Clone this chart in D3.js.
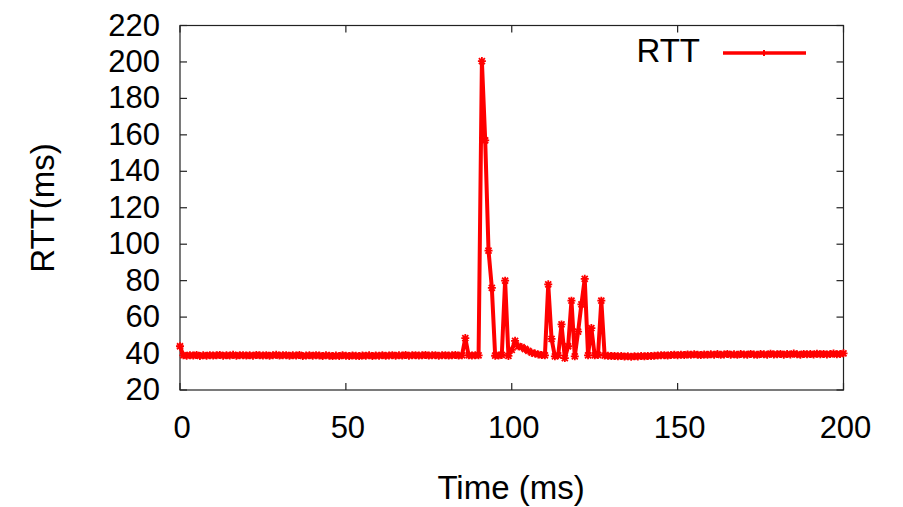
<!DOCTYPE html>
<html>
<head>
<meta charset="utf-8">
<script src="https://cdn.jsdelivr.net/npm/d3@7"></script>
<style>
  body { margin: 0; background: #fff; }
  svg { display: block; font-family: "Liberation Sans", Arial, Helvetica, sans-serif; }
</style>
</head>
<body>
<div id="chart"></div>
<script>
// time axis (ms), one sample per ms
const timeMs = [
  0, 1, 2, 3, 4, 5, 6, 7, 8, 9, 10, 11, 12, 13, 14, 15, 16, 17, 18, 19,
  20, 21, 22, 23, 24, 25, 26, 27, 28, 29, 30, 31, 32, 33, 34, 35, 36, 37, 38, 39,
  40, 41, 42, 43, 44, 45, 46, 47, 48, 49, 50, 51, 52, 53, 54, 55, 56, 57, 58, 59,
  60, 61, 62, 63, 64, 65, 66, 67, 68, 69, 70, 71, 72, 73, 74, 75, 76, 77, 78, 79,
  80, 81, 82, 83, 84, 85, 86, 87, 88, 89, 90, 91, 92, 93, 94, 95, 96, 97, 98, 99,
  100, 101, 102, 103, 104, 105, 106, 107, 108, 109, 110, 111, 112, 113, 114, 115, 116, 117, 118, 119,
  120, 121, 122, 123, 124, 125, 126, 127, 128, 129, 130, 131, 132, 133, 134, 135, 136, 137, 138, 139,
  140, 141, 142, 143, 144, 145, 146, 147, 148, 149, 150, 151, 152, 153, 154, 155, 156, 157, 158, 159,
  160, 161, 162, 163, 164, 165, 166, 167, 168, 169, 170, 171, 172, 173, 174, 175, 176, 177, 178, 179,
  180, 181, 182, 183, 184, 185, 186, 187, 188, 189, 190, 191, 192, 193, 194, 195, 196, 197, 198, 199,
  200
];

const rttMs = [
  44.0,
  39.0, 38.8, 39.1, 38.9, 39.2, 38.7, 39.0, 38.8, 39.1, 38.9,
  39.0, 39.2, 38.8, 39.0, 38.9, 39.3, 38.8, 39.0, 39.1, 38.9,
  39.0, 38.8, 39.2, 39.0, 38.9, 39.1, 38.8, 39.0, 39.3, 38.9,
  39.0, 39.1, 38.8, 39.0, 38.9, 39.2, 38.7, 38.9, 39.0, 38.8,
  39.1, 38.9, 38.7, 39.0, 38.8, 38.6, 38.9, 38.7, 39.0, 38.8,
  38.7, 38.9, 38.8, 38.6, 38.9, 38.8, 39.0, 38.7, 38.9, 38.8,
  39.0, 38.8, 38.9, 39.1, 38.8, 39.0, 38.9, 39.2, 38.8, 39.0,
  39.1, 38.9, 39.0, 39.2, 38.9, 39.0, 39.1, 38.8, 39.0, 39.1,
  38.9, 39.0, 39.2, 38.9, 39.0,
  48.5, 39.0, 38.9, 39.1, 39.0,
  200.5, 157.0, 96.5, 76.0, 38.8, 38.9, 39.2, 80.0, 38.7,
  42.0, 47.0, 44.0, 43.5, 42.5, 41.5, 40.5, 40.0, 39.5, 39.2,
  39.0, 78.0, 48.0, 38.5, 39.0, 56.0, 37.5, 44.0, 69.0, 38.5,
  52.0, 67.0, 81.0, 39.0, 54.0, 39.0, 39.2, 69.0, 38.9,
  38.8, 38.6, 38.7, 38.5, 38.6, 38.4, 38.5, 38.3, 38.5, 38.4, 38.6, 38.5,
  38.7, 38.6, 38.8, 38.9, 39.0, 39.1, 38.9, 39.2, 39.3, 39.1,
  39.4, 39.2, 39.5, 39.3, 39.6, 39.4, 39.2, 39.5, 39.3, 39.6,
  39.4, 39.7, 39.3, 39.5, 39.8, 39.4, 39.6, 39.3, 39.7, 39.5,
  39.4, 39.8, 39.5, 39.3, 39.7, 39.6, 39.4, 39.9, 39.5, 39.6,
  39.8, 39.4, 39.7, 39.5, 40.0, 39.6, 39.4, 39.8, 39.6, 39.7,
  39.5, 39.9, 39.6, 39.8, 39.5, 39.7, 40.0, 39.6, 39.8, 40.1
];

const xTicks = [0, 50, 100, 150, 200];
const yTicks = [20, 40, 60, 80, 100, 120, 140, 160, 180, 200, 220];
const seriesName = "RTT";

function drawChart() {
    const width = 903, height = 507;
    const margin = ({ top: 25.5, right: 59.5, bottom: 117, left: 180 });
    const tickLen = 7;
    const red = "#ff0000";

    const x = d3.scaleLinear().domain([0, 200]).range([margin.left, width - margin.right]);
    const y = d3.scaleLinear().domain([20, 220]).range([height - margin.bottom, margin.top]);

    const svg = d3.select("#chart").append("svg")
      .attr("width", width)
      .attr("height", height);

    // frame
    svg.append("rect")
      .attr("x", x(0))
      .attr("y", y(220))
      .attr("width", x(200) - x(0))
      .attr("height", y(20) - y(220))
      .attr("fill", "none")
      .attr("stroke", "#222")
      .attr("stroke-width", 1.2);

    // inward ticks on all four sides (gnuplot mirror)
    const axisG = svg.append("g").attr("stroke", "#222").attr("stroke-width", 1.2);
    axisG.selectAll(".xb").data(xTicks).join("line")
      .attr("x1", d => x(d)).attr("x2", d => x(d))
      .attr("y1", y(20)).attr("y2", y(20) - tickLen);
    axisG.selectAll(".xt").data(xTicks).join("line")
      .attr("x1", d => x(d)).attr("x2", d => x(d))
      .attr("y1", y(220)).attr("y2", y(220) + tickLen);
    axisG.selectAll(".yl").data(yTicks).join("line")
      .attr("x1", x(0)).attr("x2", x(0) + tickLen)
      .attr("y1", d => y(d)).attr("y2", d => y(d));
    axisG.selectAll(".yr").data(yTicks).join("line")
      .attr("x1", x(200)).attr("x2", x(200) - tickLen)
      .attr("y1", d => y(d)).attr("y2", d => y(d));

    // tick labels
    svg.append("g")
      .selectAll("text")
      .data(yTicks)
      .join("text")
        .attr("x", x(0) - 20)
        .attr("y", d => y(d) + 10)
        .attr("text-anchor", "end")
        .attr("font-size", 31)
        .attr("fill", "#000")
        .text(d => d);

    svg.append("g")
      .selectAll("text")
      .data(xTicks)
      .join("text")
        .attr("x", d => x(d) + 2)
        .attr("y", 438)
        .attr("text-anchor", "middle")
        .attr("font-size", 31)
        .attr("fill", "#000")
        .text(d => d);

    // axis titles
    svg.append("text")
      .attr("x", 511)
      .attr("y", 499)
      .attr("text-anchor", "middle")
      .attr("font-size", 33)
      .attr("fill", "#000")
      .text("Time (ms)");

    svg.append("text")
      .attr("transform", "translate(54,208) rotate(-90)")
      .attr("text-anchor", "middle")
      .attr("font-size", 33)
      .attr("fill", "#000")
      .text("RTT(ms)");

    const points = timeMs.map((t, i) => ({ t: t, v: rttMs[i] }));

    const line = d3.line()
      .x(d => x(d.t))
      .y(d => y(d.v));

    svg.append("path")
      .datum(points)
      .attr("d", line)
      .attr("fill", "none")
      .attr("stroke", red)
      .attr("stroke-width", 4)
      .attr("stroke-linejoin", "round");

    // markers (small asterisk)
    const marker = "M-4,0H4M0,-4V4M-3,-3L3,3M-3,3L3,-3";
    svg.append("g")
      .selectAll("path")
      .data(points)
      .join("path")
        .attr("transform", d => `translate(${x(d.t)},${y(d.v)})`)
        .attr("d", marker)
        .attr("fill", "none")
        .attr("stroke", red)
        .attr("stroke-width", 1.8);

    // legend
    const legend = svg.append("g");
    legend.append("text")
      .attr("x", 700)
      .attr("y", 62)
      .attr("text-anchor", "end")
      .attr("font-size", 33)
      .attr("fill", "#000")
      .text(seriesName);
    legend.append("line")
      .attr("x1", 723).attr("x2", 806)
      .attr("y1", 53).attr("y2", 53)
      .attr("stroke", red)
      .attr("stroke-width", 3.5);
    legend.append("path")
      .attr("transform", "translate(764,53)")
      .attr("d", "M-3,0H3M0,-3V3")
      .attr("stroke", red)
      .attr("stroke-width", 2);
}

drawChart();
</script>
</body>
</html>
